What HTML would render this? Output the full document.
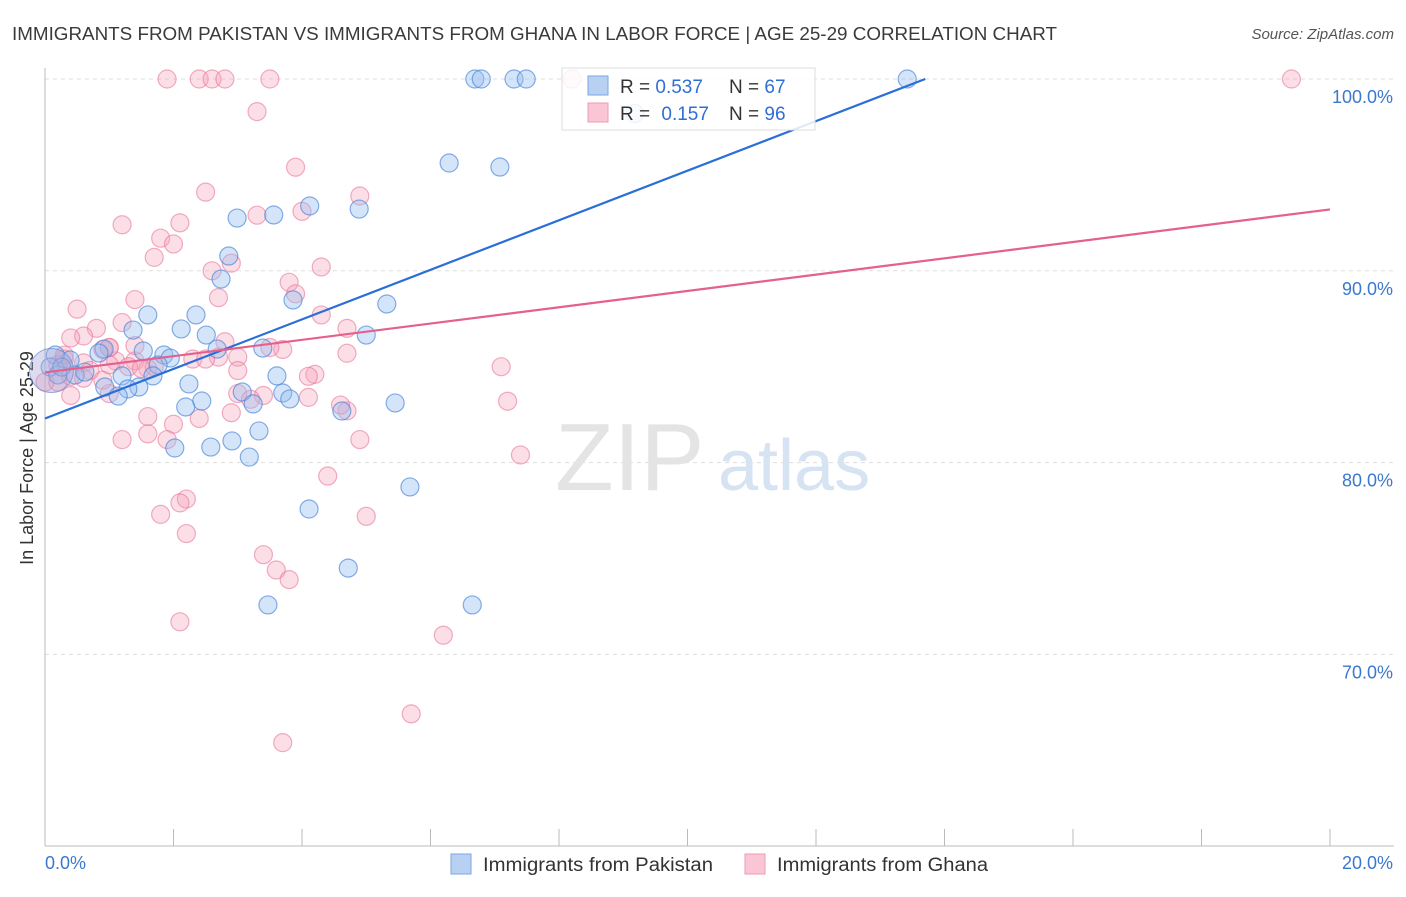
<!DOCTYPE html>
<html><head><meta charset="utf-8"><style>
body{margin:0;background:#fff;font-family:"Liberation Sans",sans-serif;}
svg text{font-family:"Liberation Sans",sans-serif;}
</style></head><body>
<svg id="chart" width="1406" height="892">
<text x="12" y="40" font-size="18" fill="#3a3a3a" textLength="1045" lengthAdjust="spacingAndGlyphs">IMMIGRANTS FROM PAKISTAN VS IMMIGRANTS FROM GHANA IN LABOR FORCE | AGE 25-29 CORRELATION CHART</text>
<text x="1394" y="39" font-size="15" fill="#555" text-anchor="end" font-style="italic">Source: ZipAtlas.com</text>
<text x="33" y="458" font-size="18" fill="#333" text-anchor="middle" transform="rotate(-90 33 458)">In Labor Force | Age 25-29</text>
<g id="grid"></g>
<text x="555" y="490" font-size="96" fill="#e4e4e4" font-family="Liberation Serif">ZIP</text>
<text x="718" y="490" font-size="72" fill="#d6e3f3">atlas</text>
<g id="pts"></g>
<g id="lines"></g>
<g id="legend">
<rect x="562" y="68" width="253" height="62" fill="rgba(255,255,255,0.85)" stroke="#ddd"/>
<rect x="588" y="76" width="20" height="19" fill="#b8d1f3" stroke="#7aa6e6"/>
<rect x="588" y="103" width="20" height="19" fill="#fac6d5" stroke="#ef99b3"/>
<text x="620" y="93" font-size="19" fill="#333">R = <tspan fill="#2f6fd4">0.537</tspan></text>
<text x="729" y="93" font-size="19" fill="#333">N = <tspan fill="#2f6fd4">67</tspan></text>
<text x="620" y="120" font-size="19" fill="#333">R = <tspan fill="#2f6fd4" dx="6">0.157</tspan></text>
<text x="729" y="120" font-size="19" fill="#333">N = <tspan fill="#2f6fd4">96</tspan></text>
</g>
<g>
<rect x="451" y="854" width="20" height="20" fill="#b8d1f3" stroke="#7aa6e6"/>
<text x="483" y="871" font-size="19" fill="#333" textLength="230" lengthAdjust="spacingAndGlyphs">Immigrants from Pakistan</text>
<rect x="745" y="854" width="20" height="20" fill="#fac6d5" stroke="#ef99b3"/>
<text x="777" y="871" font-size="19" fill="#333" textLength="211" lengthAdjust="spacingAndGlyphs">Immigrants from Ghana</text>
</g>
</svg>
<script>
const yTicks=[100,90,80,70];
const yTickLabels=["100.0%","90.0%","80.0%","70.0%"];
const xTickLabels=["0.0%","20.0%"];
const blueX=[6.69,6.79,7.30,7.49,13.42,6.29,7.08,4.12,4.89,2.99,3.56,2.86,2.74,3.86,5.32,1.60,2.35,2.12,1.37,2.51,5.00,3.39,2.68,1.53,1.85,1.95,1.76,0.92,0.84,0.39,0.16,0.08,0.20,0.47,1.68,1.20,3.61,2.24,0.93,1.46,1.29,1.14,3.07,3.70,3.81,2.44,3.24,5.45,2.19,4.62,3.33,2.91,2.58,2.02,3.18,5.68,4.11,4.72,3.47,6.65,0.26,0.62,9.18];
const blueY=[100,100,100,100,100,95.62,95.41,93.38,93.22,92.75,92.91,90.77,89.57,88.48,88.27,87.70,87.70,86.97,86.91,86.65,86.65,85.97,85.92,85.82,85.61,85.45,85.09,85.92,85.71,85.35,85.61,84.98,84.57,84.57,84.52,84.52,84.52,84.10,83.94,83.94,83.84,83.47,83.68,83.63,83.32,83.21,83.06,83.11,82.90,82.69,81.65,81.13,80.81,80.76,80.29,78.73,77.58,74.50,72.58,72.58,84.98,84.72,98.2];
const pinkX=[1.9,2.4,2.6,2.8,3.5,8.2,19.4,3.3,3.9,2.5,4.9,3.3,4.0,1.2,2.1,1.8,2.0,1.7,2.9,2.6,4.3,3.8,3.9,2.7,1.4,0.5,4.3,1.2,0.8,4.7,0.6,2.8,3.7,0.9,4.7,3.0,2.3,1.4,1.1,0.3,0.6,7.1,1.6,4.2,0.0,0.4,1.0,3.0,3.4,4.1,7.2,1.6,4.7,2.4,2.0,1.2,1.6,1.9,4.9,7.4,4.4,2.2,2.1,1.8,5.0,2.2,3.4,3.6,3.8,2.1,6.2,5.7,3.7,0.2,0.7,1.3,0.9,0.2,0.4,1.7,1.0,0.3,3.0,0.6,2.7,4.6,1.4,2.5,3.5,1.5,1.0,0.4,2.9,1.0,3.2,4.1];
const pinkY=[100,100,100,100,100,100,100,98.3,95.4,94.1,93.9,92.9,93.1,92.4,92.5,91.7,91.4,90.7,90.4,90.0,90.2,89.4,88.8,88.6,88.5,88.0,87.7,87.3,87.0,87.0,86.6,86.3,85.9,85.9,85.7,85.5,85.4,85.3,85.3,85.4,85.2,85.0,84.9,84.6,84.2,83.5,83.6,83.6,83.5,83.4,83.2,82.4,82.7,82.3,82.0,81.2,81.5,81.2,81.2,80.4,79.3,78.1,77.9,77.3,77.2,76.3,75.2,74.4,73.9,71.7,71.0,66.9,65.4,85.1,84.8,85.0,84.3,84.2,84.5,85.0,86.0,85.6,84.8,84.4,85.5,83.0,86.1,85.4,86.0,84.9,85.1,86.5,82.6,86.0,83.3,84.5];
const blueLine=[[0,82.3],[13.7,100]];
const pinkLine=[[0,84.7],[20,93.2]];
const X0=45,X1=1330,Y100=79,PX10=191.8;
const sx=v=>X0+(X1-X0)*v/20;
const sy=v=>Y100+(100-v)*PX10/10;
const NS="http://www.w3.org/2000/svg";
function mk(p,t,a){const e=document.createElementNS(NS,t);for(const k in a)e.setAttribute(k,a[k]);p.appendChild(e);return e;}
const grid=document.getElementById('grid');
yTicks.forEach((t,i)=>{
 const l=mk(grid,'line',{x1:X0,x2:1394,y1:sy(t),y2:sy(t),stroke:'#ddd','stroke-dasharray':'4,4'});
 
 
 const tx=mk(grid,'text',{x:1393,y:sy(t)+24,'font-size':18,fill:'#3a78d0','text-anchor':'end'});
 tx.textContent=yTickLabels[i];
 
 
});
const ax=mk(grid,'line',{x1:X0,x2:X0,y1:68,y2:846,stroke:'#bbb'});


const bx=mk(grid,'line',{x1:X0,x2:1394,y1:846,y2:846,stroke:'#bbb'});


for(let i=1;i<=10;i++){const t=mk(grid,'line',{x1:sx(i*2),x2:sx(i*2),y1:829,y2:846,stroke:'#bbb'});
 
 }
[[0,'start',45],[20,'end',1393]].forEach((d,i)=>{const t=mk(grid,'text',{x:d[2],y:869,'font-size':18,fill:'#3a78d0','text-anchor':d[1]});t.textContent=xTickLabels[i];
 
 });
const pts=document.getElementById('pts');
pinkX.forEach((x,i)=>{const c=mk(pts,'circle',{cx:sx(x),cy:sy(pinkY[i]),r:9,fill:'rgba(246,160,185,0.35)',stroke:'rgba(232,120,155,0.6)','stroke-width':1.2});
 
 });
blueX.forEach((x,i)=>{const c=mk(pts,'circle',{cx:sx(x),cy:sy(blueY[i]),r:9,fill:'rgba(150,190,240,0.4)',stroke:'rgba(70,130,215,0.65)','stroke-width':1.2});
 
 });
const big=mk(pts,'circle',{cx:sx(0.1),cy:sy(84.8),r:22,fill:'rgba(170,165,215,0.4)',stroke:'rgba(90,130,210,0.6)'});


const lines=document.getElementById('lines');
const bl=mk(lines,'line',{x1:sx(blueLine[0][0]),y1:sy(blueLine[0][1]),x2:sx(blueLine[1][0]),y2:sy(blueLine[1][1]),stroke:'#2a6fd6','stroke-width':2.2});


const pl=mk(lines,'line',{x1:sx(pinkLine[0][0]),y1:sy(pinkLine[0][1]),x2:sx(pinkLine[1][0]),y2:sy(pinkLine[1][1]),stroke:'#e5608c','stroke-width':2.2});


</script>
</body></html>
